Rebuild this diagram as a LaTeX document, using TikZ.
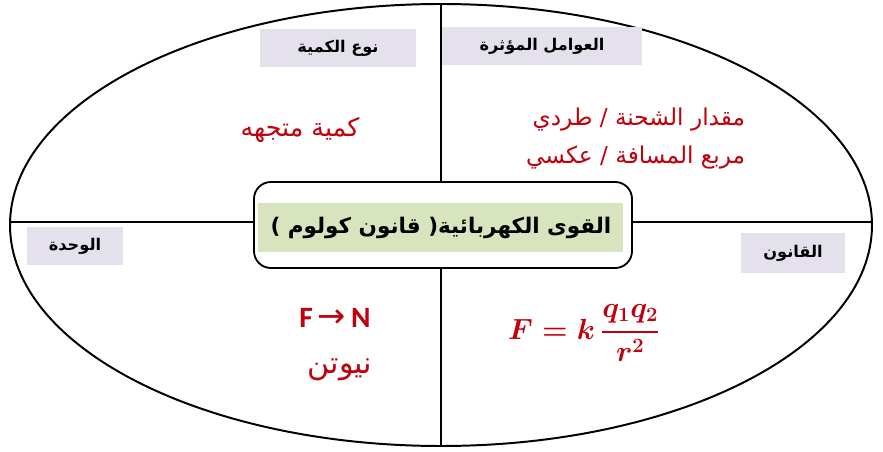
\documentclass[tikz,border=0pt]{standalone}
\usepackage{fontspec}
\usepackage{amsmath}
\setmainfont{Carlito}
\newfontfamily\arabicfont[Script=Arabic]{DejaVu Sans}
\newfontfamily\arrowfont{DejaVu Sans}
\TeXXeTstate=1
\definecolor{labelgray}{RGB}{228,225,236}
\definecolor{titlegreen}{RGB}{215,228,189}
\definecolor{darkred}{RGB}{192,0,12}
\begin{document}
\begin{tikzpicture} [x = 0.025cm, y = -0.025cm,
	headbox/.style = {fill = labelgray, inner sep = 0pt, font = \arabicfont\bfseries\fontsize{11.5}{13}\selectfont},
	redtext/.style = {text = darkred, font = \arabicfont\fontsize{16.5}{22}\selectfont}]
	\useasboundingbox (0,0) rectangle (883,452);
	\draw [line width = 1.4pt] (441,225) ellipse (431 and 221);
	\draw [line width = 1.2pt] (441,4) -- (441,446);
	\draw [line width = 1.2pt] (10,222) -- (872,222);
	\draw [line width = 1.3pt, fill = white, rounded corners = 12pt] (254,182) rectangle (632,268);
	\fill [titlegreen] (258,203) rectangle (623,252);
	\node (title) at (441,228) {\arabicfont\bfseries\fontsize{15.3}{18}\selectfont\beginR القوى الكهربائية( قانون كولوم )\endR};
	% gray header boxes
	\node [headbox, minimum width = 3.875cm, minimum height = 0.925cm] (kind) at (338,48) {\beginR نوع الكمية\endR};
	\node [headbox, minimum width = 5cm, minimum height = 0.925cm] (factors) at (542,46) {\beginR العوامل المؤثرة\endR};
	\node [headbox, minimum width = 2.4cm, minimum height = 0.925cm] (unit) at (75,246) {\beginR الوحدة\endR};
	\node [headbox, minimum width = 2.575cm, minimum height = 1cm] (law) at (793,253) {\beginR القانون\endR};
	% red contents
	\node [redtext, font = \arabicfont\fontsize{18}{22}\selectfont] (vector) at (300,130) {\beginR كمية متجهه\endR};
	\node [redtext, anchor = east] (charge) at (750,120) {\beginR مقدار الشحنة / طردي\endR};
	\node [redtext, anchor = east] (distance) at (750,158) {\beginR مربع المسافة / عكسي\endR};
	\node [text = darkred, font = \bfseries\fontsize{21}{24}\selectfont] (symbol) at (335,318) {F\,{\arrowfont\mdseries\fontsize{24}{26}\selectfont →}\,N};
	\node [redtext, font = \arabicfont\fontsize{21.5}{24}\selectfont] (newton) at (340,370) {\beginR نيوتن\endR};
	\node [text = darkred, font = \boldmath\fontsize{21}{24}\selectfont] (formula) at (584,333) {$\displaystyle F = k\,\frac{q_1q_2}{r^2}$};
\end{tikzpicture}
\end{document}
